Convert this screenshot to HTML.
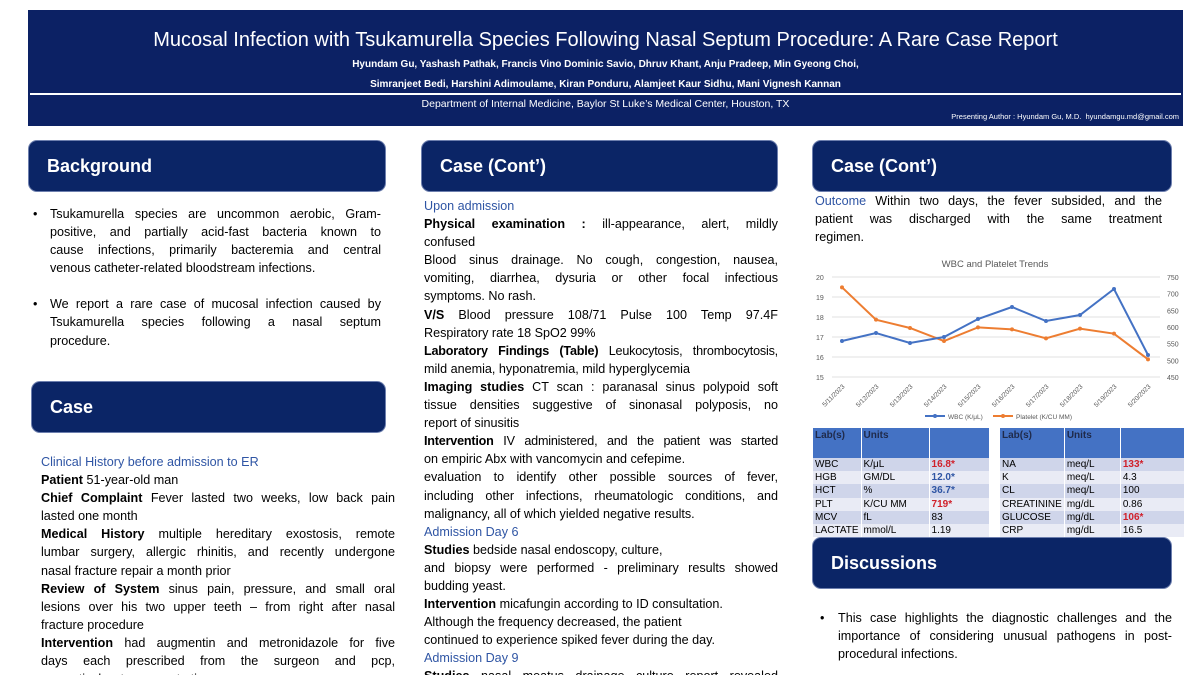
<!DOCTYPE html>
<html><head><meta charset="utf-8">
<style>
*{margin:0;padding:0;box-sizing:border-box}
html,body{width:1200px;height:675px;overflow:hidden}
body{background:#fff;font-family:"Liberation Sans",sans-serif;position:relative;color:#000}
.hdr{position:absolute;left:28px;top:10px;width:1155px;height:116px;background:#0c2164;color:#fff;text-align:center}
.box{position:absolute;background:#0b2566;border:1.5px solid #6d7fae;border-radius:9px;color:#fff;font-weight:bold;font-size:18px;padding-left:18px;display:flex;align-items:center}
.txt{position:absolute;font-size:12.6px;line-height:18.1px}
.txt div{white-space:nowrap}
.j{text-align:justify;text-align-last:justify;white-space:normal!important}
.b{color:#2f55a4}
table{border-collapse:collapse;font-size:10px;position:absolute}
td{padding:0 2px;height:13.2px;border-right:1px solid #fff}
th{background:#4472c4;color:#1f2a4a;text-align:left;vertical-align:top;font-weight:bold;height:30px;padding:2px;border-right:1px solid #fff}
tr.o td{background:#cfd5ea}
tr.e td{background:#e9ebf5}
.r{color:#d0202a;font-weight:bold}.bl{color:#2f55a4;font-weight:bold}
</style></head><body>
<div class="hdr">
<div style="font-size:20px;margin-top:19px">Mucosal Infection with Tsukamurella Species Following Nasal Septum Procedure: A Rare Case Report</div>
<div style="font-size:10px;font-weight:bold;margin-top:7px">Hyundam Gu, Yashash Pathak, Francis Vino Dominic Savio, Dhruv Khant, Anju Pradeep, Min Gyeong Choi,</div>
<div style="font-size:10px;font-weight:bold;margin-top:9px">Simranjeet Bedi, Harshini Adimoulame, Kiran Ponduru, Alamjeet Kaur Sidhu, Mani Vignesh Kannan</div>
<div style="height:2px;background:#fff;margin:3px 2px 0 2px"></div>
<div style="font-size:10.5px;margin-top:3px">Department of Internal Medicine, Baylor St Luke’s Medical Center, Houston, TX</div>
<div style="font-size:7.5px;text-align:right;padding-right:4px;margin-top:2px">Presenting Author : Hyundam Gu, M.D.&nbsp; hyundamgu.md@gmail.com</div>
</div>

<div class="box" style="left:28px;top:140px;width:358px;height:52px">Background</div>
<div class="box" style="left:31px;top:381px;width:355px;height:52px">Case</div>
<div class="box" style="left:421px;top:140px;width:357px;height:52px">Case (Cont’)</div>
<div class="box" style="left:812px;top:140px;width:360px;height:52px">Case (Cont’)</div>
<div class="box" style="left:812px;top:537px;width:360px;height:52px">Discussions</div>

<div class="txt" style="left:33px;top:205px;width:348px">
<div style="position:absolute;left:0">•</div>
<div style="padding-left:17px"><div class="j">Tsukamurella species are uncommon aerobic, Gram-</div><div class="j">positive, and partially acid-fast bacteria known to</div><div class="j">cause infections, primarily bacteremia and central</div><div>venous catheter-related bloodstream infections.</div></div>
<div style="position:absolute;left:0;top:90px">•</div>
<div style="padding-left:17px;margin-top:18px"><div class="j">We report a rare case of mucosal infection caused by</div><div class="j">Tsukamurella species following a nasal septum</div><div>procedure.</div></div>
</div>

<div class="txt" style="left:41px;top:453px;width:354px">
<div class="b">Clinical History before admission to ER</div>
<div><b>Patient</b> 51-year-old man</div>
<div class="j"><b>Chief Complaint</b> Fever lasted two weeks, low back pain</div>
<div>lasted one month</div>
<div class="j"><b>Medical History</b> multiple hereditary exostosis, remote</div>
<div class="j">lumbar surgery, allergic rhinitis, and recently undergone</div>
<div>nasal fracture repair a month prior</div>
<div class="j"><b>Review of System</b> sinus pain, pressure, and small oral</div>
<div class="j">lesions over his two upper teeth – from right after nasal</div>
<div>fracture procedure</div>
<div class="j"><b>Intervention</b> had augmentin and metronidazole for five</div>
<div class="j">days each prescribed from the surgeon and pcp,</div>
<div>respectively, at a separate time</div>
</div>

<div class="txt" style="left:424px;top:197px;width:354px">
<div class="b">Upon admission</div>
<div class="j"><b>Physical examination :</b> ill-appearance, alert, mildly</div>
<div>confused</div>
<div class="j">Blood sinus drainage. No cough, congestion, nausea,</div>
<div class="j">vomiting, diarrhea, dysuria or other focal infectious</div>
<div>symptoms. No rash.</div>
<div class="j"><b>V/S</b> Blood pressure 108/71 Pulse 100 Temp 97.4F</div>
<div>Respiratory rate 18 SpO2 99%</div>
<div class="j" style="letter-spacing:-0.2px"><b>Laboratory Findings (Table)</b> Leukocytosis, thrombocytosis,</div>
<div>mild anemia, hyponatremia, mild hyperglycemia</div>
<div class="j"><b>Imaging studies</b> CT scan : paranasal sinus polypoid soft</div>
<div class="j">tissue densities suggestive of sinonasal polyposis, no</div>
<div>report of sinusitis</div>
<div class="j" style="letter-spacing:-0.2px"><b>Intervention</b> IV administered, and the patient was started</div>
<div>on empiric Abx with vancomycin and cefepime.</div>
<div class="j">evaluation to identify other possible sources of fever,</div>
<div class="j">including other infections, rheumatologic conditions, and</div>
<div>malignancy, all of which yielded negative results.</div>
<div class="b">Admission Day 6</div>
<div><b>Studies</b> bedside nasal endoscopy, culture,</div>
<div class="j">and biopsy were performed - preliminary results showed</div>
<div>budding yeast.</div>
<div><b>Intervention</b> micafungin according to ID consultation.</div>
<div>Although the frequency decreased, the patient</div>
<div>continued to experience spiked fever during the day.</div>
<div class="b">Admission Day 9</div>
<div class="j"><b>Studies</b> nasal meatus drainage culture report revealed</div>
</div>

<div class="txt" style="left:815px;top:192px;width:347px">
<div class="j"><span class="b">Outcome</span> Within two days, the fever subsided, and the</div>
<div class="j">patient was discharged with the same treatment</div>
<div>regimen.</div>
</div>

<div class="txt" style="left:820px;top:609px;width:352px">
<div style="position:absolute;left:0">•</div>
<div style="padding-left:18px"><div class="j">This case highlights the diagnostic challenges and the</div><div class="j">importance of considering unusual pathogens in post-</div><div>procedural infections.</div></div>
</div>

<svg id="chart" style="position:absolute;left:810px;top:250px" width="380" height="178"></svg>

<table style="left:813px;top:428px;width:177px">
<tr><th style="width:47px">Lab(s)</th><th style="width:68px">Units</th><th></th></tr>
<tr class="o"><td>WBC</td><td>K/μL</td><td class="r">16.8*</td></tr>
<tr class="e"><td>HGB</td><td>GM/DL</td><td class="bl">12.0*</td></tr>
<tr class="o"><td>HCT</td><td>%</td><td class="bl">36.7*</td></tr>
<tr class="e"><td>PLT</td><td>K/CU MM</td><td class="r">719*</td></tr>
<tr class="o"><td>MCV</td><td>fL</td><td>83</td></tr>
<tr class="e"><td>LACTATE</td><td>mmol/L</td><td>1.19</td></tr>
</table>
<table style="left:1000px;top:428px;width:185px">
<tr><th style="width:55px">Lab(s)</th><th style="width:56px">Units</th><th></th></tr>
<tr class="o"><td>NA</td><td>meq/L</td><td class="r">133*</td></tr>
<tr class="e"><td>K</td><td>meq/L</td><td>4.3</td></tr>
<tr class="o"><td>CL</td><td>meq/L</td><td>100</td></tr>
<tr class="e"><td>CREATININE</td><td>mg/dL</td><td>0.86</td></tr>
<tr class="o"><td>GLUCOSE</td><td>mg/dL</td><td class="r">106*</td></tr>
<tr class="e"><td>CRP</td><td>mg/dL</td><td>16.5</td></tr>
</table>

<script>
const dates=["5/11/2023","5/12/2023","5/13/2023","5/14/2023","5/15/2023","5/16/2023","5/17/2023","5/18/2023","5/19/2023","5/20/2023"];
const wbc=[16.8,17.2,16.7,17.0,17.9,18.5,17.8,18.1,19.4,16.1];
const platelet=[719,622,597,558,599,593,566,595,580,503];
const leftTicks=[15,16,17,18,19,20];
const rightTicks=[450,500,550,600,650,700,750];
const NS="http://www.w3.org/2000/svg";
const svg=document.getElementById('chart');
const x0=32,x1=338,yTop=27,yBot=127;
const xs=i=>x0+i*(x1-x0)/(dates.length-1);
const yl=v=>yBot-(v-15)/(20-15)*(yBot-yTop);
const yr=v=>yBot-(v-450)/(750-450)*(yBot-yTop);
function mk(t,a){const e=document.createElementNS(NS,t);for(const k in a)e.setAttribute(k,a[k]);svg.appendChild(e);return e;}
const title=mk('text',{x:185,y:17,'text-anchor':'middle','font-size':9.5,fill:'#595959','font-family':'Liberation Sans'});
title.textContent='WBC and Platelet Trends';


leftTicks.forEach(v=>{
 const g=mk('line',{x1:x0-10,x2:x1+12,y1:yl(v),y2:yl(v),stroke:'#d9d9d9','stroke-width':0.7});
 
 
 const t=mk('text',{x:6,y:yl(v)+3,'font-size':7,fill:'#595959'});t.textContent=v;
 
 
});
rightTicks.forEach(v=>{
 const t=mk('text',{x:357,y:yr(v)+3,'font-size':7,fill:'#595959'});t.textContent=v;
 
 
});
dates.forEach((d,i)=>{
 const t=mk('text',{x:xs(i)+3,y:yBot+10,'font-size':6.5,fill:'#595959','text-anchor':'end',transform:`rotate(-45 ${xs(i)+3} ${yBot+10})`});t.textContent=d;
 
 
});
function series(vals,yf,col,name){
 const p=mk('polyline',{points:vals.map((v,i)=>xs(i)+','+yf(v)).join(' '),fill:'none',stroke:col,'stroke-width':2});
 
 
 vals.forEach((v,i)=>{const c=mk('circle',{cx:xs(i),cy:yf(v),r:2,fill:col});
 
 });
}
series(platelet,yr,'#ed7d31','platelet');
series(wbc,yl,'#4472c4','wbc');
mk('line',{x1:115,x2:135,y1:166,y2:166,stroke:'#4472c4','stroke-width':2});
mk('circle',{cx:125,cy:166,r:2,fill:'#4472c4'});
const l1=mk('text',{x:138,y:169,'font-size':6.5,fill:'#595959'});l1.textContent='WBC (K/μL)';


mk('line',{x1:183,x2:203,y1:166,y2:166,stroke:'#ed7d31','stroke-width':2});
mk('circle',{cx:193,cy:166,r:2,fill:'#ed7d31'});
const l2=mk('text',{x:206,y:169,'font-size':6.5,fill:'#595959'});l2.textContent='Platelet (K/CU MM)';


</script>
</body></html>
